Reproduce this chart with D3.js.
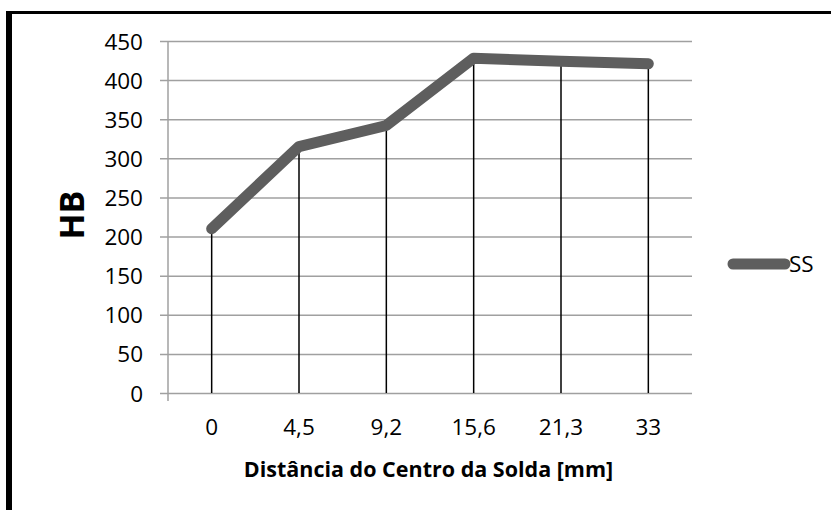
<!DOCTYPE html>
<html><head><meta charset="utf-8">
<script src="https://cdn.jsdelivr.net/npm/d3@7"></script>
<style>html,body{margin:0;padding:0;background:#fff;}svg{display:block;}</style>
</head><body>
<script>
const categories = ["0", "4,5", "9,2", "15,6", "21,3", "33"];
const seriesName = "SS";
const values = [210, 315, 342, 428, 424, 421];
const yTicks = [0, 50, 100, 150, 200, 250, 300, 350, 400, 450];
const xTitle = "Distância do Centro da Solda [mm]";
const yTitle = "HB";

(function () {
const W = 831, H = 510;
const font = "'Open Sans', sans-serif";
const svg = d3.select("body").append("svg").attr("width", W).attr("height", H);

// outer border (cropped on right/bottom)
svg.append("rect").attr("x", 6).attr("y", 11).attr("width", 6).attr("height", H - 11).attr("fill", "#000");
svg.append("rect").attr("x", 6).attr("y", 11).attr("width", W - 6).attr("height", 3).attr("fill", "#000");

const pL = 168, pR = 692, pT = 41, pB = 393;
const x = d3.scaleBand().domain(categories).range([pL, pR]);
const y = d3.scaleLinear().domain([0, 450]).range([pB, pT]);

// gridlines + y axis
const yAxis = d3.axisLeft(y).tickValues(yTicks).tickSize(-(pR - pL)).tickSizeOuter(0).tickPadding(25);
const gy = svg.append("g").attr("transform", `translate(${pL},0)`).call(yAxis);
gy.select(".domain").remove();
gy.selectAll(".tick line").attr("x1", -8).attr("stroke", "#a0a0a0").attr("stroke-width", 1.5);
gy.selectAll(".tick text").attr("font-family", font).attr("font-size", 22.5).attr("fill", "#000").attr("dy", "0.36em");

// y axis line
svg.append("line").attr("x1", pL).attr("x2", pL).attr("y1", pT).attr("y2", pB + 8)
  .attr("stroke", "#a0a0a0").attr("stroke-width", 1.5);

// x axis
const xAxis = d3.axisBottom(x).tickSize(0).tickPadding(0);
const gx = svg.append("g").attr("transform", `translate(0,${pB})`).call(xAxis);
gx.select(".domain").remove();
gx.selectAll(".tick text").attr("font-family", font).attr("font-size", 22.5).attr("fill", "#000")
  .attr("dy", null).attr("y", 42);

// drop lines
svg.append("g").selectAll("line").data(values).join("line")
  .attr("x1", (d, i) => x(categories[i]) + x.bandwidth() / 2)
  .attr("x2", (d, i) => x(categories[i]) + x.bandwidth() / 2)
  .attr("y1", d => y(d)).attr("y2", pB)
  .attr("stroke", "#000").attr("stroke-width", 1.5);

// series line
const line = d3.line().x((d, i) => x(categories[i]) + x.bandwidth() / 2).y(d => y(d));
svg.append("path").datum(values).attr("d", line).attr("fill", "none")
  .attr("stroke", "#5e5e5e").attr("stroke-width", 11)
  .attr("stroke-linecap", "round").attr("stroke-linejoin", "round");

// axis titles
svg.append("text").attr("x", 428.5).attr("y", 477).attr("text-anchor", "middle")
  .attr("font-family", font).attr("font-weight", "bold").attr("font-size", 21.5).attr("fill", "#000").text(xTitle);
svg.append("text").attr("transform", "translate(84,215) rotate(-90)").attr("text-anchor", "middle")
  .attr("font-family", font).attr("font-weight", "bold").attr("font-size", 34).attr("fill", "#000").text(yTitle);

// legend
svg.append("line").attr("x1", 733).attr("x2", 785).attr("y1", 264).attr("y2", 264)
  .attr("stroke", "#5e5e5e").attr("stroke-width", 11).attr("stroke-linecap", "round");
svg.append("text").attr("x", 789).attr("y", 272).attr("font-family", font).attr("font-size", 22.5)
  .attr("fill", "#000").text(seriesName);
})();
</script>
</body></html>
